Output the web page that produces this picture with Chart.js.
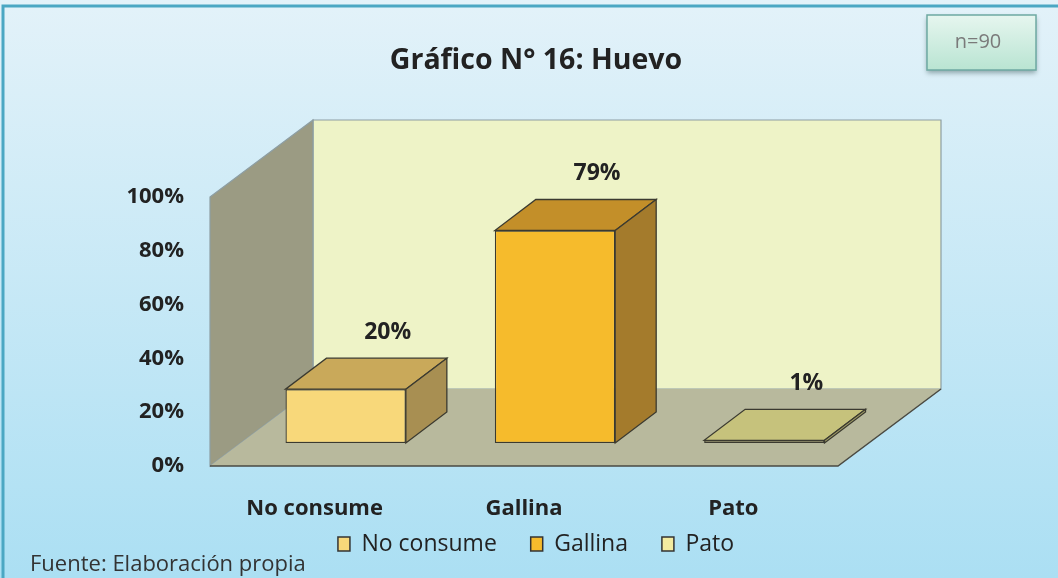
<!DOCTYPE html>
<html>
<head>
<meta charset="utf-8">
<script src="https://cdn.jsdelivr.net/npm/chart.js@4.4.1/dist/chart.umd.min.js"></script>
<style>
  html, body { margin: 0; padding: 0; background: #fff; }
  #wrap { width: 1058px; height: 578px; }
</style>
</head>
<body>
<div id="wrap"><canvas id="c" width="1058" height="578"></canvas></div>
<script>
const categorias = ['No consume', 'Gallina', 'Pato'];
const porcentajes = [20, 79, 1];
const colores = ['#f8d87a', '#f6bb2c', '#f4eca0'];
const coloresTapa = ['#c9a95a', '#c38f29', '#c6c27c'];
const coloresLado = ['#a88f52', '#a47b2c', '#a6a268'];
const titulo = 'Gráfico N° 16: Huevo';
const fuente = 'Fuente: Elaboración propia';
const muestra = 'n=90';

const FAM = "'Open Sans', sans-serif";

// 3D offsets (px): wall depth, bar front, bar depth
const FONDO = { dx: 103, dy: -77 };
const FRENTE = { dx: 31, dy: -23 };
const PROF = { dx: 41, dy: -31 };

function poly(ctx, pts, fill, stroke, lw) {
  ctx.beginPath();
  ctx.moveTo(pts[0][0], pts[0][1]);
  for (let i = 1; i < pts.length; i++) ctx.lineTo(pts[i][0], pts[i][1]);
  ctx.closePath();
  if (fill) { ctx.fillStyle = fill; ctx.fill(); }
  if (stroke) { ctx.strokeStyle = stroke; ctx.lineWidth = lw || 1; ctx.stroke(); }
}

const escena = {
  id: 'escena',
  beforeDraw(chart) {
    const { ctx, width, height, chartArea: a } = chart;
    const g = ctx.createLinearGradient(0, 0, 0, height);
    g.addColorStop(0, '#e3f2f9');
    g.addColorStop(1, '#abdff3');
    ctx.save();
    ctx.fillStyle = g;
    ctx.fillRect(0, 0, width, height);
    ctx.strokeStyle = '#4ba7c3';
    ctx.lineWidth = 3;
    ctx.beginPath();
    ctx.moveTo(3, height); ctx.lineTo(3, 6); ctx.lineTo(width, 6);
    ctx.stroke();

    const L = a.left, R = a.right, T = a.top, B = a.bottom, dx = FONDO.dx, dy = FONDO.dy;
    // back wall
    poly(ctx, [[L + dx, T + dy], [R + dx, T + dy], [R + dx, B + dy], [L + dx, B + dy]], '#eef3c7', '#8d9ea3', 1.2);
    // left wall
    poly(ctx, [[L, T], [L + dx, T + dy], [L + dx, B + dy], [L, B]], '#9b9b83', '#8d9ea3', 1.2);
    // floor
    poly(ctx, [[L, B], [R, B], [R + dx, B + dy], [L + dx, B + dy]], '#b8b99d', null);
    ctx.strokeStyle = '#4a4a42';
    ctx.lineWidth = 1.5;
    ctx.beginPath();
    ctx.moveTo(L, B); ctx.lineTo(R, B); ctx.lineTo(R + dx, B + dy);
    ctx.stroke();
    ctx.restore();
  },
  beforeDatasetsDraw(chart) {
    chart.ctx.save();
    chart.ctx.translate(FRENTE.dx, FRENTE.dy);
  },
  afterDatasetsDraw(chart) {
    const ctx = chart.ctx;
    const meta = chart.getDatasetMeta(0);
    meta.data.forEach((el, i) => {
      const { x, y, base, width } = el.getProps(['x', 'y', 'base', 'width'], true);
      const l = x - width / 2, r = x + width / 2;
      const borde = '#3b3a30';
      poly(ctx, [[l, y], [r, y], [r + PROF.dx, y + PROF.dy], [l + PROF.dx, y + PROF.dy]], coloresTapa[i], borde, 1.3);
      poly(ctx, [[r, y], [r + PROF.dx, y + PROF.dy], [r + PROF.dx, base + PROF.dy], [r, base]], coloresLado[i], borde, 1.3);
      ctx.fillStyle = '#222';
      ctx.font = 'bold 23px ' + FAM;
      ctx.textAlign = 'center';
      ctx.textBaseline = 'middle';
      ctx.fillText(porcentajes[i] + '%', x + 42, y - 57);
    });
    ctx.restore();
  },
  afterDraw(chart) {
    const ctx = chart.ctx;
    ctx.save();
    // n=90 box
    ctx.shadowColor = 'rgba(40,70,70,0.45)';
    ctx.shadowBlur = 5;
    ctx.shadowOffsetY = 3;
    const g = ctx.createLinearGradient(0, 15, 0, 70);
    g.addColorStop(0, '#e6f6ef');
    g.addColorStop(1, '#b9e4d2');
    ctx.fillStyle = g;
    ctx.fillRect(927, 15, 109, 55);
    ctx.shadowColor = 'transparent';
    ctx.strokeStyle = '#6ea9a2';
    ctx.lineWidth = 1.5;
    ctx.strokeRect(927, 15, 109, 55);
    ctx.fillStyle = '#7a7a7a';
    ctx.font = '20px ' + FAM;
    ctx.textAlign = 'center';
    ctx.textBaseline = 'middle';
    ctx.fillText(muestra, 978, 42);
    // source note
    ctx.fillStyle = '#333';
    ctx.font = '22px ' + FAM;
    ctx.textAlign = 'left';
    ctx.fillText(fuente, 30, 565);
    ctx.restore();
  }
};

new Chart(document.getElementById('c'), {
  type: 'bar',
  data: {
    labels: categorias,
    datasets: [{
      label: 'Huevo',
      data: porcentajes,
      backgroundColor: colores,
      borderColor: '#3b3a30',
      borderWidth: 1.3,
      borderSkipped: false,
      barPercentage: 0.575,
      categoryPercentage: 1
    }]
  },
  options: {
    responsive: false,
    animation: false,
    layout: { padding: { top: 0, left: 14, right: 0, bottom: 12.5 } },
    plugins: {
      tooltip: { enabled: false },
      title: {
        display: true,
        text: titulo,
        color: '#222',
        font: { family: FAM, size: 28.5, weight: 'bold' },
        padding: { top: 44, bottom: 118.8 }
      },
      legend: {
        position: 'bottom',
        labels: {
          color: '#222',
          font: { family: FAM, size: 23 },
          boxWidth: 12,
          boxHeight: 14,
          padding: 10,
          generateLabels: () => categorias.map((c, i) => ({
            text: i < categorias.length - 1 ? c + '    ' : c,
            fillStyle: colores[i], strokeStyle: '#333', lineWidth: 1.5,
            hidden: false, index: i, fontColor: '#222'
          }))
        }
      }
    },
    scales: {
      x: {
        grid: { display: false, drawTicks: false },
        border: { display: false },
        ticks: { color: '#222', font: { family: FAM, size: 22, weight: 'bold' }, padding: 30 },
        afterFit: s => { s.height = 56.5; }
      },
      y: {
        min: 0, max: 100,
        grid: { display: false, drawTicks: false },
        border: { display: false },
        ticks: { stepSize: 20, color: '#222', font: { family: FAM, size: 22, weight: 'bold' }, padding: 26, callback: v => v + '%' },
        afterFit: s => { s.width = 196; }
      },
      y2: {
        position: 'right',
        grid: { display: false, drawTicks: false },
        border: { display: false },
        ticks: { display: false },
        afterFit: s => { s.width = 220; }
      }
    }
  },
  plugins: [escena]
});
</script>
</body>
</html>
